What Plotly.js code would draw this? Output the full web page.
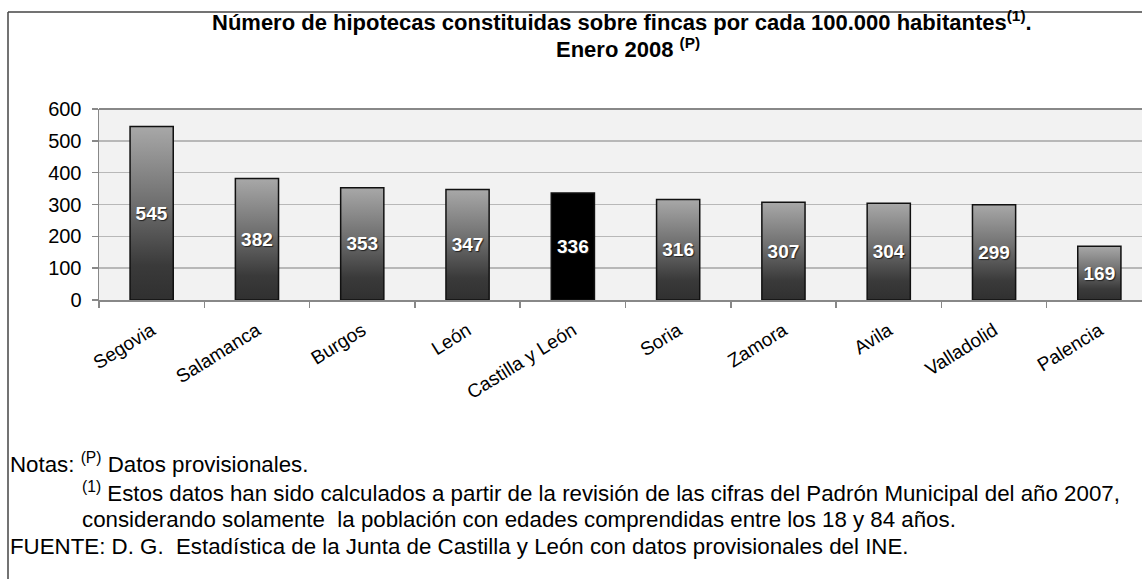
<!DOCTYPE html>
<html>
<head>
<meta charset="utf-8">
<script src="https://cdn.plot.ly/plotly-3.0.1.min.js"></script>
<style>
html,body{margin:0;padding:0;background:#fff;}
#chart{width:1142px;height:579px;}
</style>
</head>
<body>
<div id="chart"></div>
<script>
const categories = ["Segovia","Salamanca","Burgos","León","Castilla y León","Soria","Zamora","Avila","Valladolid","Palencia"];
const values = [545, 382, 353, 347, 336, 316, 307, 304, 299, 169];
const yTicks = [0, 100, 200, 300, 400, 500, 600];
const highlight = "Castilla y León";

const titleLine1 = "<b>Número de hipotecas constituidas sobre fincas por cada 100.000 habitantes<sup>(1)</sup>.</b>";
const titleLine2 = "<b>Enero 2008 <sup>(P)</sup></b>";
const notes = [
  {text: "Notas: <sup>(P)</sup> Datos provisionales.", px: 8, py: 463},
  {text: "<sup>(1)</sup> Estos datos han sido calculados a partir de la revisión de las cifras del Padrón Municipal del año 2007,", px: 80, py: 492},
  {text: "considerando solamente  la población con edades comprendidas entre los 18 y 84 años.", px: 80, py: 519},
  {text: "FUENTE: D. G.  Estadística de la Junta de Castilla y León con datos provisionales del INE.", px: 8, py: 546}
];

const W = 1142, H = 579;
const L = 99, R = 0, T = 109, B = 579 - 300;
const PW = W - L - R, PH = H - T - B;
const px2x = p => (p - L) / PW;
const py2y = p => (H - B - p) / PH;

const FONT = "Liberation Sans, Arial, sans-serif";

const colors = categories.map(c => c === highlight ? "#000000" : "#555555");

const trace = {
  type: "bar",
  x: categories,
  y: values,
  width: 0.41,
  marker: {color: colors, line: {color: "#111111", width: 1.5}},
  text: values.map(String),
  texttemplate: "<b>%{text}</b>",
  textposition: "inside",
  insidetextanchor: "middle",
  textangle: 0,
  constraintext: "none",
  textfont: {family: FONT, size: 19, color: "#ffffff", shadow: "1px 1px 1px #222"},
  hoverinfo: "x+y"
};

const annotations = [
  {text: titleLine1, xref: "paper", yref: "paper", x: px2x(622), y: py2y(21), xanchor: "center", yanchor: "middle", showarrow: false, font: {family: FONT, size: 22, color: "#000"}},
  {text: titleLine2, xref: "paper", yref: "paper", x: px2x(628), y: py2y(48), xanchor: "center", yanchor: "middle", showarrow: false, font: {family: FONT, size: 22, color: "#000"}}
].concat(notes.map(n => ({
  text: n.text, xref: "paper", yref: "paper", x: px2x(n.px), y: py2y(n.py),
  xanchor: "left", yanchor: "middle", align: "left", showarrow: false,
  font: {family: FONT, size: 22.3, color: "#000"}
})));

const frameX = px2x(8), frameTop = py2y(12);
const shapes = [
  {type: "line", xref: "paper", yref: "paper", x0: frameX, x1: frameX, y0: py2y(585), y1: frameTop, line: {color: "#444", width: 1.5}},
  {type: "line", xref: "paper", yref: "paper", x0: frameX, x1: 1.05, y0: frameTop, y1: frameTop, line: {color: "#444", width: 1.5}},
  {type: "line", xref: "paper", yref: "paper", x0: 0, x1: 1.05, y0: 1, y1: 1, line: {color: "#888", width: 2}, layer: "above"}
];

const layout = {
  width: W, height: H,
  margin: {l: L, r: R, t: T, b: B, pad: 0},
  paper_bgcolor: "#ffffff",
  plot_bgcolor: "#f2f2f2",
  showlegend: false,
  font: {family: FONT, color: "#000"},
  xaxis: {
    type: "category",
    range: [-0.5, 9.5 - 10 / 105.3],
    tickson: "boundaries",
    ticks: "outside", ticklen: 6, tickcolor: "#888", tickwidth: 1.5,
    showline: true, linecolor: "#888", linewidth: 2,
    showgrid: false,
    tickangle: -32,
    ticklabelstandoff: 10,
    tickfont: {family: FONT, size: 19, color: "#000"},
    fixedrange: true
  },
  yaxis: {
    range: [0, 600],
    tickvals: yTicks,
    ticks: "outside", ticklen: 6, tickcolor: "#888", tickwidth: 1.5,
    ticklabelstandoff: 6,
    showline: true, linecolor: "#888", linewidth: 1.5,
    showgrid: true, gridcolor: "#b8b8b8", gridwidth: 1.5,
    zeroline: false,
    tickfont: {family: FONT, size: 20, color: "#000"},
    fixedrange: true
  },
  annotations: annotations,
  shapes: shapes
};

Plotly.newPlot("chart", [trace], layout, {displayModeBar: false, staticPlot: true}).then(gd => {
  const svg = gd.querySelector(".main-svg");
  const NS = "http://www.w3.org/2000/svg";
  let defs = svg.querySelector("defs");
  if (!defs) { defs = document.createElementNS(NS, "defs"); svg.insertBefore(defs, svg.firstChild); }
  const grad = document.createElementNS(NS, "linearGradient");
  grad.setAttribute("id", "barGrad");
  grad.setAttribute("x1", "0"); grad.setAttribute("y1", "0");
  grad.setAttribute("x2", "0"); grad.setAttribute("y2", "1");
  [["0", "#a8a8a8"], ["0.45", "#6e6e6e"], ["0.8", "#3a3a3a"], ["1", "#303030"]].forEach(([o, c]) => {
    const s = document.createElementNS(NS, "stop");
    s.setAttribute("offset", o); s.setAttribute("stop-color", c);
    grad.appendChild(s);
  });
  defs.appendChild(grad);
  const paths = gd.querySelectorAll(".bars .point path");
  paths.forEach((p, i) => {
    if (categories[i] !== highlight) p.style.fill = "url(#barGrad)";
  });
});
</script>
</body>
</html>
